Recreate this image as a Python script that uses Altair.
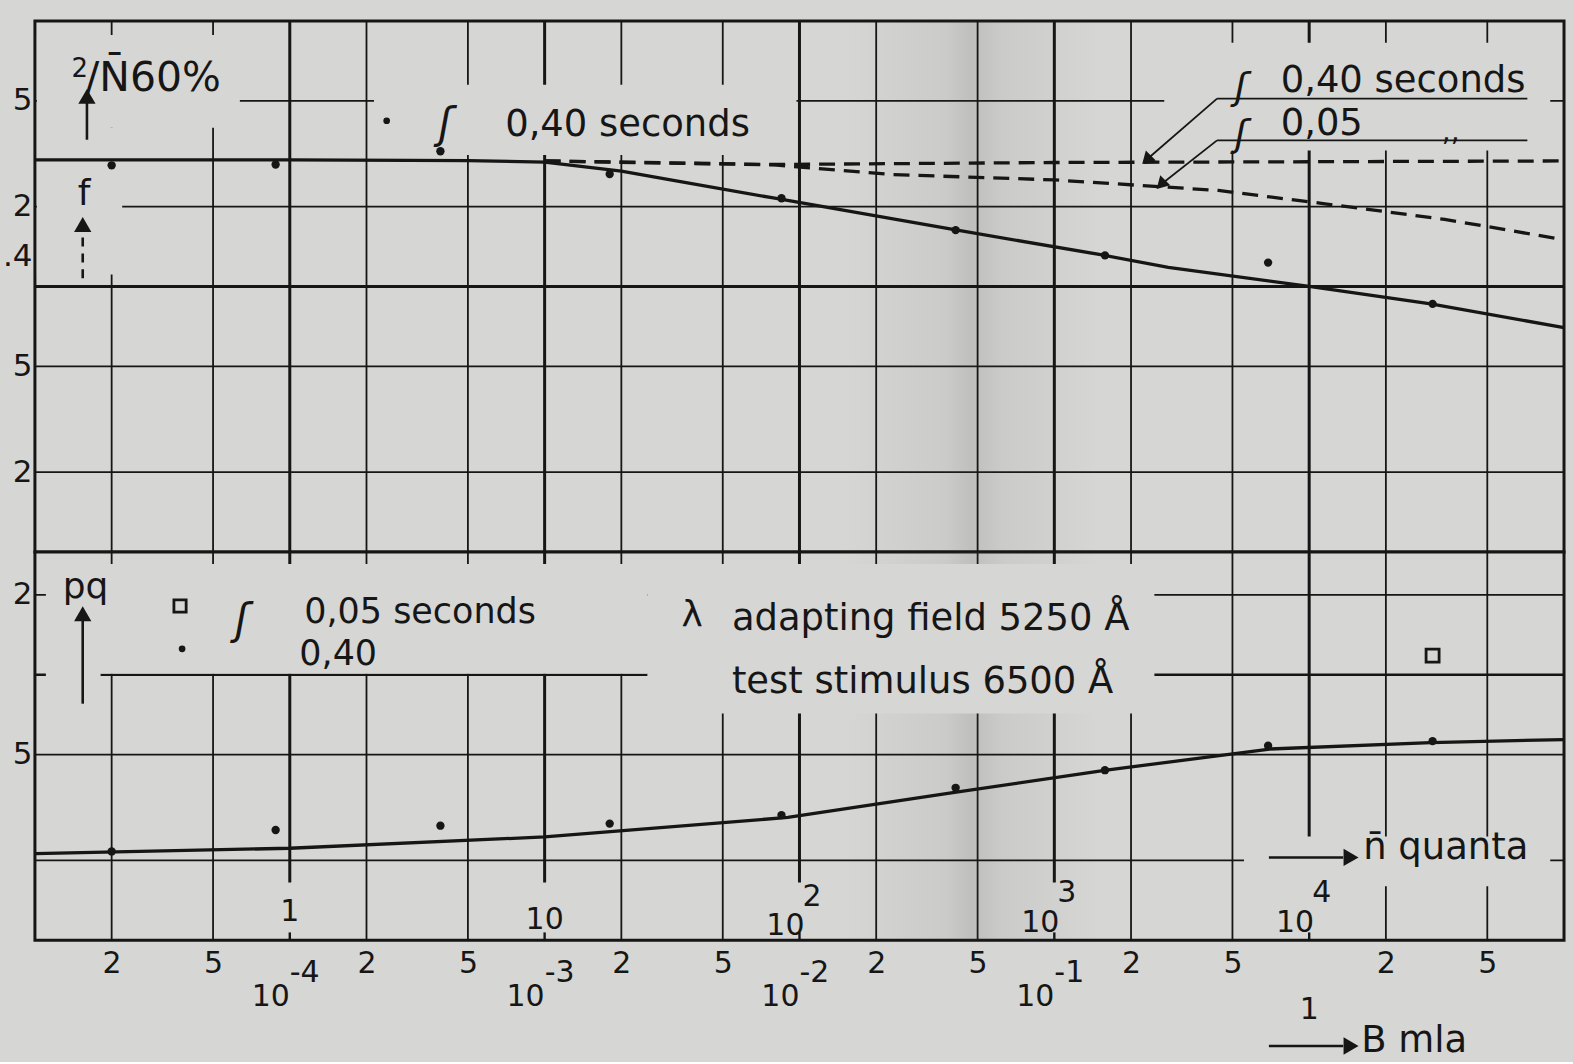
import altair as alt
import pandas as pd

BG = "#d6d6d4"
INK = "#161616"
FONT = "DejaVu Sans"
W, H_TOP, H_BOT = 1532, 532, 389

# ---------------- values ----------------
# abscissa: mean number of quanta n (B in mla = n * 1e-4)
n_points = [0.2, 0.88, 3.9, 18, 85, 410, 1580, 6900, 30500]
top_dots = [2.86, 2.88, 3.23, 2.65, 2.15, 1.63, 1.31, 1.23, 0.86]
top_curve_n = [0.1, 1, 5, 10, 20, 32, 80, 400, 1500, 2800, 10000, 30000, 100000]
top_curve = [3.0, 3.0, 2.98, 2.94, 2.72, 2.51, 2.15, 1.64, 1.32, 1.18, 1.0, 0.86, 0.70]
f040_n = [10, 80, 1000, 100000]
f040 = [2.97, 2.88, 2.93, 2.97]
f005_n = [10, 80, 230, 1000, 4400, 11000, 34000, 100000]
f005 = [2.97, 2.87, 2.64, 2.52, 2.30, 2.06, 1.79, 1.50]
pq_dots = [0.0216, 0.026, 0.027, 0.0275, 0.0296, 0.0375, 0.0437, 0.054, 0.0562]
pq_curve_n = [0.1, 1, 10, 90, 400, 1600, 7000, 30000, 100000]
pq_curve = [0.0212, 0.0222, 0.0245, 0.029, 0.036, 0.0437, 0.0525, 0.0555, 0.057]
pq_square_n = [30500]
pq_square = [0.118]

# grid lines and tick labels
decades = [1, 10, 100, 1000, 10000]
minors = [0.2, 0.5, 2, 5, 20, 50, 200, 500, 2000, 5000, 20000, 50000]
top_hminor = [0.2, 0.5, 2, 5]
top_hmajor = [1]
bot_hminor = [0.2, 0.05, 0.02]
bot_hmajor = [0.1]
top_ylabels = [5, 2, 1.3, 0.5, 0.2]
bot_ylabels = [0.2, 0.05]
b_decade_n = [1, 10, 100, 1000]
b_decade_exp = ["-4", "-3", "-2", "-1"]
b_one_n = [10000]
nq_plain_n = [1, 10]
nq_plain_txt = ["1", "10"]
nq_pow_n = [100, 1000, 10000]
nq_pow_exp = ["2", "3", "4"]

# ---------------- scales and axes ----------------
XS = alt.Scale(type="log", domain=[0.1, 100000], nice=False)
YT = alt.Scale(type="log", domain=[0.1, 10], nice=False)
YB = alt.Scale(type="log", domain=[0.01, 0.29], nice=False)

top_y_axis = alt.Axis(values=top_ylabels, title=None, ticks=False, domain=False, grid=False,
                      labelFont=FONT, labelFontSize=31, labelColor=INK, labelPadding=3,
                      labelExpr="datum.value == 1.3 ? '.4' : ((datum.value == 5 || datum.value == 0.5) ? '5' : '2')")
bot_x_axis = alt.Axis(values=minors, title=None, ticks=False, domain=False, grid=False,
                      labelFont=FONT, labelFontSize=30, labelColor=INK, labelPadding=8,
                      labelExpr="substring(format(datum.value*10, '.0f'), 0, 1)")
bot_y_axis = alt.Axis(values=bot_ylabels, title=None, ticks=False, domain=False, grid=False,
                      labelFont=FONT, labelFontSize=31, labelColor=INK, labelPadding=3,
                      labelExpr="datum.value == 0.2 ? '2' : '5'")

AXES = {"x": None}
THIN, HEAVY = 1.8, 3.0

# ---------------- layout (annotation placement, data units) ----------------
top_masks = [
    (0.1018, 0.637, 3.96, 8.86),
    (0.1018, 0.22, 1.11, 3.96),
    (2.14, 97.3, 3.13, 5.75),
    (2700, 88300, 3.25, 8.27),
]
bot_masks = [
    (0.1104, 25.3, 0.1009, 0.2613),
    (0.1104, 0.181, 0.0758, 0.103),
    (25.3, 2470, 0.0714, 0.2613),
    (5550, 88300, 0.01596, 0.0246),
]


def frame(**cols):
    return pd.DataFrame(cols)


def X(f="n"):
    return alt.X(f"{f}:Q", scale=XS, axis=AXES["x"])


def Y(ys, f="v"):
    return alt.Y(f"{f}:Q", scale=ys, axis=top_y_axis if ys is YT else bot_y_axis)


def vgrid(values, width):
    return alt.Chart(frame(n=values)).mark_rule(color=INK, strokeWidth=width).encode(x=X())


def hgrid(values, width, ys):
    return alt.Chart(frame(v=values)).mark_rule(color=INK, strokeWidth=width).encode(y=Y(ys))


def masks(rows, ys):
    d = pd.DataFrame(rows, columns=["x1", "x2", "y1", "y2"])
    return alt.Chart(d).mark_rect(color=BG).encode(
        x=X("x1"), x2="x2:Q", y=Y(ys, "y1"), y2="y2:Q")


def gutter():
    grad = alt.LinearGradient(
        gradient="linear", x1=0, x2=1, y1=0, y2=0,
        stops=[alt.GradientStop(color="rgba(70,70,70,0)", offset=0),
               alt.GradientStop(color="rgba(70,70,70,0.08)", offset=0.4),
               alt.GradientStop(color="rgba(70,70,70,0.16)", offset=0.5),
               alt.GradientStop(color="rgba(70,70,70,0.08)", offset=0.62),
               alt.GradientStop(color="rgba(70,70,70,0)", offset=1)])
    return alt.Chart(frame(a=[150], b=[1500])).mark_rect(color=grad).encode(x=X("a"), x2="b:Q")


def texts(rows, ys, size, align="left", style="normal"):
    d = pd.DataFrame(rows, columns=["n", "v", "t"])
    return alt.Chart(d).mark_text(font=FONT, fontSize=size, align=align, baseline="middle",
                                  color=INK, fontStyle=style).encode(
        x=X(), y=Y(ys), text="t:N")


def segs(rows, ys, width=2.4, dash=None):
    d = pd.DataFrame(rows, columns=["x1", "y1", "x2", "y2"])
    kw = dict(color=INK, strokeWidth=width)
    if dash:
        kw["strokeDash"] = dash
    return alt.Chart(d).mark_rule(**kw).encode(x=X("x1"), x2="x2:Q", y=Y(ys, "y1"), y2="y2:Q")


def heads(rows, ys, shape, size=240, angle=0):
    d = pd.DataFrame(rows, columns=["n", "v"])
    return alt.Chart(d).mark_point(shape=shape, filled=True, size=size, color=INK, opacity=1,
                                   angle=angle).encode(x=X(), y=Y(ys))


def line(xs, vs, ys, dash=None):
    kw = dict(color=INK, strokeWidth=3.3)
    if dash:
        kw["strokeDash"] = dash
    return alt.Chart(frame(n=xs, v=vs)).mark_line(**kw).encode(x=X(), y=Y(ys))


def dots(xs, vs, ys, size=70):
    return alt.Chart(frame(n=xs, v=vs)).mark_point(filled=True, size=size, color=INK, opacity=1).encode(
        x=X(), y=Y(ys))


# ---------------- top panel ----------------
AXES["x"] = None
top = alt.layer(
    hgrid(top_hminor, THIN, YT),
    gutter(),
    vgrid(minors, THIN),
    vgrid(decades, HEAVY),
    hgrid(top_hmajor, HEAVY, YT),
    masks(top_masks, YT),
    line(top_curve_n, top_curve, YT),
    line(f040_n, f040, YT, dash=[16, 9]),
    line(f005_n, f005, YT, dash=[16, 9]),
    dots(n_points, top_dots, YT),
    # label 2/N60% with arrow
    texts([(0.139, 6.6, "2")], YT, 26),
    texts([(0.158, 6.05, "/N\u030460%")], YT, 41),
    segs([(0.16, 3.57, 0.16, 5.0)], YT, 2.6),
    heads([(0.16, 5.2)], YT, "triangle-up", 300),
    # f with dashed arrow
    texts([(0.156, 2.22, "f")], YT, 36, align="center"),
    heads([(0.154, 1.71)], YT, "triangle-up", 300),
    segs([(0.154, 1.53, 0.154, 1.02)], YT, 2.6, dash=[9, 7]),
    # legend: dot, 0,40 seconds
    dots([2.4], [4.21], YT, 45),
    texts([(4.08, 4.06, "\u0283")], YT, 42, align="center", style="italic"),
    texts([(5400, 5.6, "\u0283"), (5400, 3.72, "\u0283")], YT, 38, align="center", style="italic"),
    texts([(7.0, 4.06, "0,40 seconds"), (7730, 5.95, "0,40 seconds"), (7730, 4.1, "0,05")], YT, 37),
    texts([(35900, 3.8, ",,")], YT, 28, align="center"),
    segs([(4350, 5.1, 71800, 5.1), (4350, 3.55, 71800, 3.55)], YT, 1.8),
    segs([(4350, 5.1, 2300, 3.0), (4350, 3.55, 2620, 2.42)], YT, 1.8),
    heads([(2300, 3.0), (2620, 2.42)], YT, "triangle-up", 200, angle=225),
).properties(width=W, height=H_TOP)

# ---------------- bottom panel ----------------
AXES["x"] = bot_x_axis

dec_rules = alt.Chart(frame(n=decades, a=[0.29] * 5, b=[0.0165] * 5)).mark_rule(
    color=INK, strokeWidth=HEAVY).encode(x=X(), y=Y(YB, "a"), y2="b:Q")
dec_ticks = alt.Chart(frame(n=decades, a=[0.01] * 5, b=[0.0107] * 5)).mark_rule(
    color=INK, strokeWidth=2.4).encode(x=X(), y=Y(YB, "a"), y2="b:Q")


def below(xs, txt, dy, align, size=30):
    return alt.Chart(frame(n=xs, t=txt)).mark_text(
        font=FONT, fontSize=size, align=align, baseline="middle", color=INK).encode(
        x=X(), y=alt.value(H_BOT + dy), text="t:N")


bot = alt.layer(
    vgrid(minors, THIN),
    gutter(),
    dec_rules,
    hgrid(bot_hminor, THIN, YB),
    hgrid(bot_hmajor, 2.7, YB),
    masks(bot_masks, YB),
    dec_ticks,
    line(pq_curve_n, pq_curve, YB),
    dots(n_points, pq_dots, YB),
    alt.Chart(frame(n=pq_square_n, v=pq_square)).mark_point(
        shape="square", filled=False, size=170, strokeWidth=2.8, color=INK, opacity=1).encode(
        x=X(), y=Y(YB)),
    # legend
    texts([(0.158, 0.2143, "pq")], YB, 36, align="center"),
    segs([(0.154, 0.0778, 0.154, 0.16)], YB, 2.6),
    heads([(0.154, 0.1696)], YB, "triangle-up", 300),
    alt.Chart(frame(n=[0.371], v=[0.1816])).mark_point(
        shape="square", filled=False, size=150, strokeWidth=2.8, color=INK, opacity=1).encode(
        x=X(), y=Y(YB)),
    dots([0.378], [0.1252], YB, 45),
    texts([(0.648, 0.1596, "\u0283")], YB, 42, align="center", style="italic"),
    texts([(1.14, 0.172, "0,05 seconds"), (1.09, 0.12, "0,40")], YB, 35),
    texts([(54.3, 0.1624, "adapting field 5250 \u00c5"), (54.3, 0.0941, "test stimulus 6500 \u00c5"),
           (16300, 0.0222, "n\u0304 quanta")], YB, 37),
    texts([(37.9, 0.168, "\u03bb")], YB, 36, align="center"),
    segs([(6950, 0.0205, 13600, 0.0205)], YB, 2.6),
    heads([(14600, 0.0205)], YB, "triangle-right", 300),
    # n quanta decade labels (inside)
    alt.Chart(frame(n=nq_plain_n, t=nq_plain_txt, v=[0.0128, 0.0119])).mark_text(
        font=FONT, fontSize=30, align="center", baseline="middle", color=INK).encode(
        x=X(), y=Y(YB), text="t:N"),
    alt.Chart(frame(n=nq_pow_n, t=["10"] * 3, v=[0.0113, 0.0116, 0.0116])).mark_text(
        font=FONT, fontSize=30, align="right", baseline="middle", color=INK, dx=5).encode(
        x=X(), y=Y(YB), text="t:N"),
    alt.Chart(frame(n=nq_pow_n, t=nq_pow_exp, v=[0.0146, 0.0150, 0.0150])).mark_text(
        font=FONT, fontSize=30, align="left", baseline="middle", color=INK, dx=3).encode(
        x=X(), y=Y(YB), text="t:N"),
    # B mla decade labels (below)
    below(b_decade_n, ["10"] * 4, 57, "right"),
    below(b_decade_n, b_decade_exp, 33, "left"),
    below(b_one_n, ["1"], 70, "center"),
    alt.Chart(frame(a=[6950], b=[13600])).mark_rule(color=INK, strokeWidth=2.6).encode(
        x=X("a"), x2="b:Q", y=alt.value(H_BOT + 106)),
    alt.Chart(frame(n=[14600])).mark_point(shape="triangle-right", filled=True, size=300,
                                           color=INK, opacity=1).encode(
        x=X(), y=alt.value(H_BOT + 106)),
    below([16000], ["B mla"], 101, "left", 37),
).properties(width=W, height=H_BOT)

chart = alt.vconcat(top, bot, spacing=0, bounds="flush").configure(
    background=BG, padding={"left": 0, "top": 17, "right": 0, "bottom": 0}, font=FONT
).configure_view(stroke=INK, strokeWidth=3, fill=BG)

chart.save("out.html", embed_options={"renderer": "svg", "actions": False})
